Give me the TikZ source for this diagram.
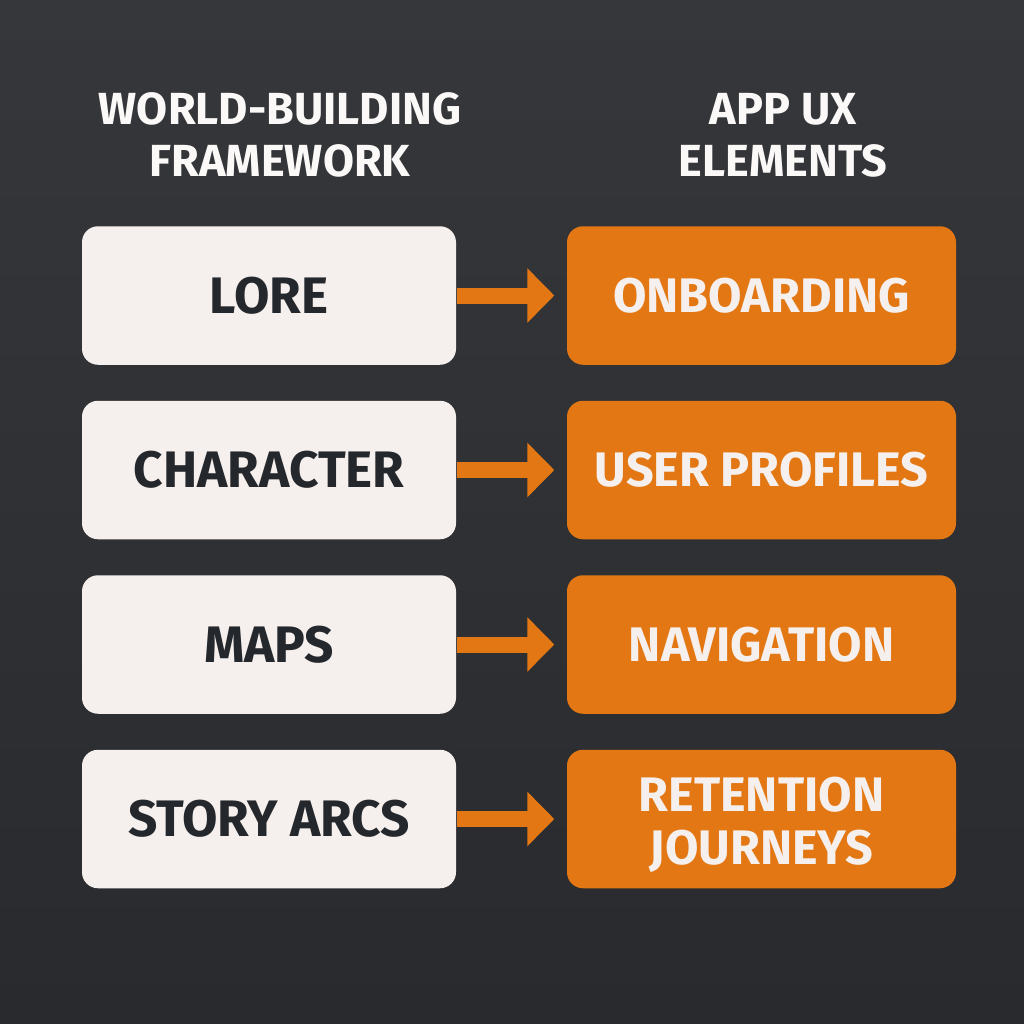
\documentclass[tikz,border=0pt]{standalone}
\usepackage{fontspec}
\setmainfont{Fira Sans}
\usetikzlibrary{arrows.meta,positioning}
\definecolor{bgtop}{HTML}{36373B}
\definecolor{bgbot}{HTML}{292A2D}
\definecolor{paper}{HTML}{F5F0ED}
\definecolor{ink}{HTML}{24272C}
\definecolor{amber}{HTML}{E37714}
\tikzset{
	world/.style={rectangle,rounded corners=.16cm,minimum width=3.74cm,minimum height=1.385cm,fill=paper,text=ink,font=\fontsize{14.6}{15}\selectfont\bfseries,align=center,inner sep=0pt},
	app/.style={world,minimum width=3.89cm,fill=amber,text=paper,font=\fontsize{13.8}{15}\selectfont\bfseries},
	heading/.style={text=white!60!paper,font=\fontsize{12.8}{14.8}\selectfont\bfseries,align=center,inner sep=0pt},
	link/.style={line width=.16cm,amber,-{Triangle[length=.27cm,width=.53cm]},shorten >=.12cm}
}
\begin{document}
\begin{tikzpicture}[node distance=1.745cm,on grid]
	\shade[top color=bgtop,bottom color=bgbot] (0,0) rectangle (10.24,-10.24);
	\useasboundingbox (0,0) rectangle (10.24,-10.24);
	\node[world] (lore) at (2.69,-2.955) {LORE};
	\node[world] (character) [below=of lore] {CHARACTER};
	\node[world] (maps) [below=of character] {MAPS};
	\node[world] (arcs) [below=of maps] {STORY ARCS};
	\node[app] (onboarding) at (7.615,-2.955) {ONBOARDING};
	\node[app] (profiles) [below=of onboarding] {USER PROFILES};
	\node[app] (navigation) [below=of profiles] {NAVIGATION};
	\node[app] (journeys) [below=of navigation] {\rule{0pt}{13pt}RETENTION\\JOURNEYS};
	\node[heading] (worldhead) at (2.80,-1.35) {WORLD-BUILDING\\FRAMEWORK};
	\node[heading] (apphead) at (7.83,-1.35) {APP UX\\ELEMENTS};
	\draw[link] (lore) -- (onboarding);
	\draw[link] (character) -- (profiles);
	\draw[link] (maps) -- (navigation);
	\draw[link] (arcs) -- (journeys);
\end{tikzpicture}
\end{document}
